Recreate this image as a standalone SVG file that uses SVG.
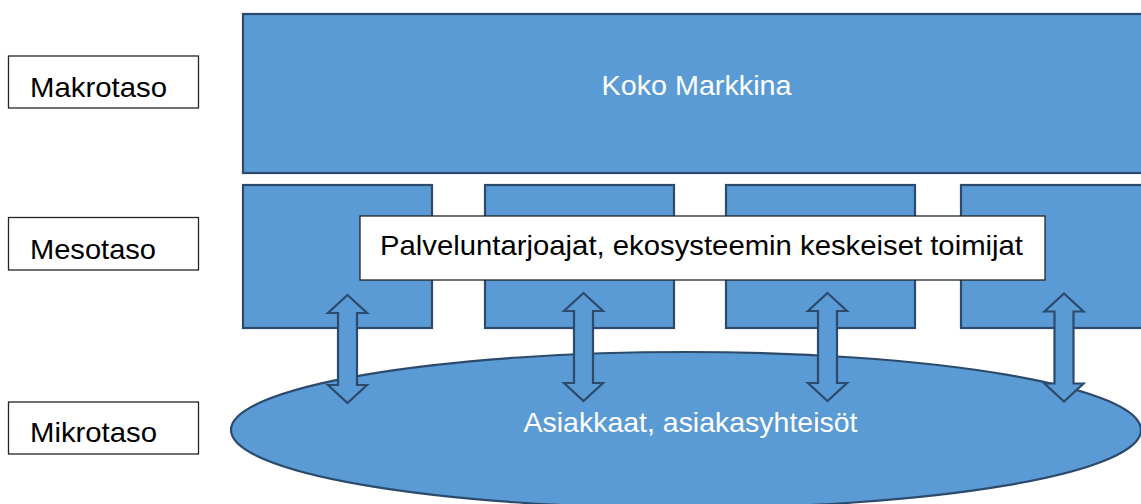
<svg xmlns="http://www.w3.org/2000/svg" width="1141" height="504" viewBox="0 0 1141 504">
  <defs>
    <style>
      .shape { fill: #5B9BD5; stroke: #2C4A6B; stroke-width: 2.2; }
      .level { fill: #FFFFFF; stroke: #262626; stroke-width: 1.3; }
      .callout { fill: #FFFFFF; stroke: #262626; stroke-width: 1.3; }
      .dark { font-family: "Liberation Sans", Arial, sans-serif; font-size: 28px; fill: #000000; }
      .light { font-family: "Liberation Sans", Arial, sans-serif; font-size: 28px; fill: #FFFFFF; }
    </style>
    <!-- vertical double-headed block arrow, centred on x=0, spanning y=0..108 -->
    <path id="dbl-arrow" d="M0,0 L19.5,18 L9.5,18 L9.5,90 L19.5,90 L0,108 L-19.5,90 L-9.5,90 L-9.5,18 L-19.5,18 Z"/>
  </defs>

  <!-- level labels -->
  <g id="label-makro">
    <rect class="level" x="8.5" y="56" width="190" height="52"/>
    <text class="dark" x="30" y="96.5" textLength="137" lengthAdjust="spacingAndGlyphs">Makrotaso</text>
  </g>
  <g id="label-meso">
    <rect class="level" x="8.5" y="217.5" width="190" height="52.5"/>
    <text class="dark" x="30" y="259" textLength="126" lengthAdjust="spacingAndGlyphs">Mesotaso</text>
  </g>
  <g id="label-mikro">
    <rect class="level" x="8.5" y="402" width="190" height="52"/>
    <text class="dark" x="30" y="442" textLength="127" lengthAdjust="spacingAndGlyphs">Mikrotaso</text>
  </g>

  <!-- macro level: whole market -->
  <g id="node-market">
    <rect class="shape" x="243" y="14" width="910" height="159"/>
    <text class="light" x="601.5" y="95" textLength="190" lengthAdjust="spacingAndGlyphs">Koko Markkina</text>
  </g>

  <!-- meso level: providers -->
  <g id="node-provider-1"><rect class="shape" x="243" y="185" width="189" height="143"/></g>
  <g id="node-provider-2"><rect class="shape" x="485" y="185" width="189" height="143"/></g>
  <g id="node-provider-3"><rect class="shape" x="726" y="185" width="189" height="143"/></g>
  <g id="node-provider-4"><rect class="shape" x="961" y="185" width="200" height="143"/></g>

  <g id="node-providers-label">
    <rect class="callout" x="360" y="216" width="685" height="64"/>
    <text class="dark" x="380" y="255" textLength="643" lengthAdjust="spacingAndGlyphs">Palveluntarjoajat, ekosysteemin keskeiset toimijat</text>
  </g>

  <!-- micro level: customers -->
  <g id="node-customers">
    <ellipse class="shape" cx="686" cy="430" rx="455" ry="78"/>
    <text class="light" x="523.5" y="432" textLength="334" lengthAdjust="spacingAndGlyphs">Asiakkaat, asiakasyhteisöt</text>
  </g>

  <!-- interaction arrows between providers and customers -->
  <g id="connectors">
    <use href="#dbl-arrow" class="shape" transform="translate(347.5,295)"/>
    <use href="#dbl-arrow" class="shape" transform="translate(583.5,293)"/>
    <use href="#dbl-arrow" class="shape" transform="translate(827.5,293)"/>
    <use href="#dbl-arrow" class="shape" transform="translate(1064,293.5)"/>
  </g>
</svg>
